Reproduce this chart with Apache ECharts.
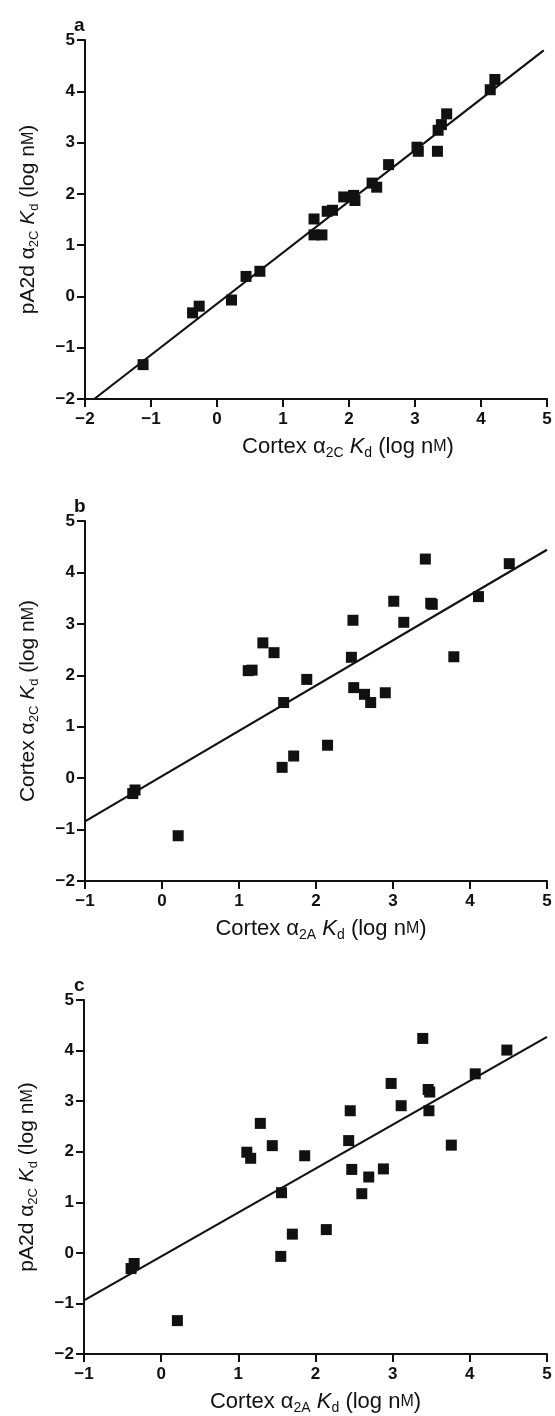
<!DOCTYPE html>
<html>
<head>
<meta charset="utf-8">
<script src="https://cdn.jsdelivr.net/npm/echarts@6/dist/echarts.min.js"></script>
<style>
  html, body { margin: 0; padding: 0; background: #fff; }
  #main { width: 555px; height: 1416px; }
</style>
</head>
<body>
<div id="main"></div>
<script>
// panel a: pA2d alpha2C Kd vs cortex alpha2C Kd
var pointsA = [
  [-1.12, -1.33], [-0.37, -0.32], [-0.27, -0.19], [0.22, -0.07], [0.44, 0.39],
  [0.65, 0.49], [1.47, 1.51], [1.47, 1.20], [1.59, 1.20], [1.67, 1.66],
  [1.75, 1.68], [1.92, 1.94], [2.07, 1.97], [2.09, 1.87], [2.35, 2.21],
  [2.42, 2.13], [2.60, 2.57], [3.03, 2.91], [3.05, 2.83], [3.34, 2.83],
  [3.35, 3.24], [3.40, 3.35], [3.48, 3.56], [4.14, 4.03], [4.21, 4.23]
];
var fitA = [[-1.86, -2], [4.95, 4.80]];

// panel b: cortex alpha2C Kd vs cortex alpha2A Kd
var pointsB = [
  [-0.38, -0.30], [-0.35, -0.23], [0.21, -1.12], [1.12, 2.09], [1.17, 2.10],
  [1.31, 2.63], [1.455, 2.44], [1.58, 1.47], [1.56, 0.21], [1.71, 0.43],
  [1.88, 1.92], [2.15, 0.64], [2.48, 3.07], [2.46, 2.35], [2.49, 1.76],
  [2.63, 1.63], [2.71, 1.47], [2.90, 1.66], [3.01, 3.44], [3.14, 3.03],
  [3.42, 4.26], [3.49, 3.40], [3.51, 3.38], [3.79, 2.36], [4.11, 3.53],
  [4.51, 4.17]
];
var fitB = [[-1, -0.84], [5, 4.44]];

// panel c: pA2d alpha2C Kd vs cortex alpha2A Kd
var pointsC = [
  [-0.39, -0.31], [-0.35, -0.21], [0.21, -1.34], [1.11, 1.99], [1.16, 1.87],
  [1.285, 2.56], [1.44, 2.12], [1.56, 1.19], [1.55, -0.07], [1.70, 0.37],
  [1.86, 1.92], [2.14, 0.46], [2.45, 2.81], [2.43, 2.22], [2.47, 1.65],
  [2.60, 1.17], [2.69, 1.50], [2.88, 1.66], [2.98, 3.35], [3.11, 2.91],
  [3.39, 4.24], [3.46, 3.23], [3.48, 3.18], [3.47, 2.81], [3.76, 2.13],
  [4.07, 3.54], [4.48, 4.01]
];
var fitC = [[-1, -0.94], [5, 4.27]];

var panelLetters = ['a', 'b', 'c'];
var xMins = [-2, -1, -1];
var yMin = -2, yMax = 5, xMax = 5;

var FONT = 'Liberation Sans, Arial, Helvetica, sans-serif';

// rich-text pieces for the axis titles (subscripts, italic K, small-cap M)
function makeRich(s) {
  var lh = Math.round(s * 1.2);
  return {
    n: { fontSize: s, fontFamily: FONT, color: '#111', lineHeight: lh },
    sub: { fontSize: Math.round(s * 0.64), fontFamily: FONT, color: '#111',
           lineHeight: Math.round(s * 0.64), verticalAlign: 'bottom' },
    it: { fontSize: s, fontFamily: FONT, fontStyle: 'italic', color: '#111', lineHeight: lh },
    sc: { fontSize: Math.round(s * 0.74), fontFamily: FONT, color: '#111',
          lineHeight: lh, verticalAlign: 'middle' }
  };
}
var xNames = [
  '{n|Cortex α}{sub|2C}{n| }{it|K}{sub|d}{n| (log n}{sc|M}{n|)}',
  '{n|Cortex α}{sub|2A}{n| }{it|K}{sub|d}{n| (log n}{sc|M}{n|)}',
  '{n|Cortex α}{sub|2A}{n| }{it|K}{sub|d}{n| (log n}{sc|M}{n|)}'
];
var yNames = [
  '{n|pA2d α}{sub|2C}{n| }{it|K}{sub|d}{n| (log n}{sc|M}{n|)}',
  '{n|Cortex α}{sub|2C}{n| }{it|K}{sub|d}{n| (log n}{sc|M}{n|)}',
  '{n|pA2d α}{sub|2C}{n| }{it|K}{sub|d}{n| (log n}{sc|M}{n|)}'
];
var xNamePad = [[0, 0, 0, 64], [0, 0, 0, 10], 0];

var grids = [
  { left: 85, top: 40, width: 462, height: 359 },
  { left: 85, top: 521, width: 462, height: 360 },
  { left: 84, top: 1000, width: 463, height: 360 }
];

function minus(v) { return String(v).replace('-', '\u2212'); }

var axisCommon = {
  type: 'value',
  interval: 1,
  axisLine: { show: true, onZero: false, lineStyle: { color: '#111', width: 2 } },
  axisTick: { show: true, inside: false, length: 8, lineStyle: { color: '#111', width: 2 } },
  axisLabel: { color: '#111', fontSize: 17, fontWeight: 'bold', fontFamily: FONT, formatter: minus },
  splitLine: { show: false },
  nameLocation: 'middle'
};

var xAxes = [], yAxes = [], series = [], titles = [];
var allPoints = [pointsA, pointsB, pointsC];
var allFits = [fitA, fitB, fitC];

for (var i = 0; i < 3; i++) {
  xAxes.push(Object.assign({}, axisCommon, {
    gridIndex: i, min: xMins[i], max: xMax,
    axisLabel: Object.assign({}, axisCommon.axisLabel, { margin: 12 }),
    name: xNames[i], nameGap: 35,
    nameTextStyle: { rich: makeRich(22), padding: xNamePad[i] }
  }));
  yAxes.push(Object.assign({}, axisCommon, {
    gridIndex: i, min: yMin, max: yMax,
    axisLabel: Object.assign({}, axisCommon.axisLabel, { margin: 10 }),
    name: yNames[i], nameGap: 44,
    nameTextStyle: { rich: makeRich(21) }
  }));
  series.push({
    type: 'line', xAxisIndex: i, yAxisIndex: i,
    data: allFits[i], showSymbol: false, symbol: 'none',
    lineStyle: { color: '#111', width: 2.2 }, silent: true, z: 2
  });
  series.push({
    type: 'scatter', xAxisIndex: i, yAxisIndex: i,
    data: allPoints[i], symbol: 'rect', symbolSize: 11,
    itemStyle: { color: '#111', opacity: 1 }, z: 3
  });
  titles.push({
    text: panelLetters[i], left: 69, top: grids[i].top - 29,
    textStyle: { fontSize: 19, fontWeight: 'bold', fontFamily: FONT, color: '#111' }
  });
}

var myChart = echarts.init(document.getElementById('main'));
myChart.setOption({
  animation: false,
  backgroundColor: '#fff',
  title: titles,
  grid: grids,
  xAxis: xAxes,
  yAxis: yAxes,
  series: series
});
</script>
</body>
</html>
